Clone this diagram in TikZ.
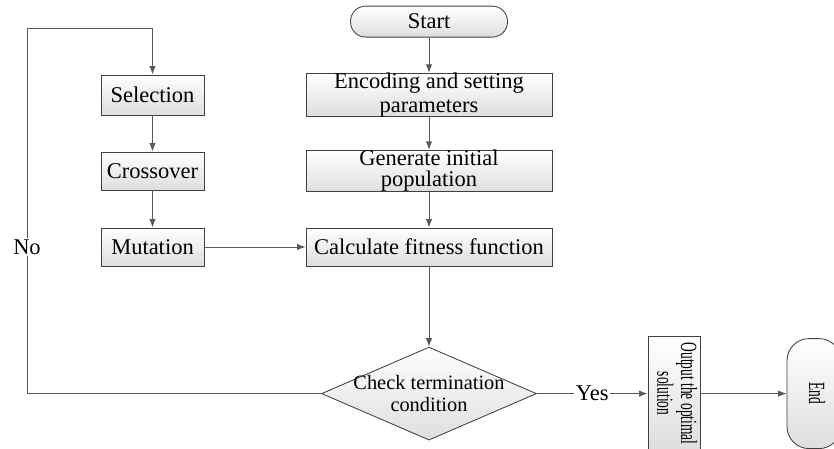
\documentclass[tikz,border=0pt]{standalone}
\usepackage{graphicx}
\usepackage{fontspec}
\setmainfont{Liberation Serif}
\usetikzlibrary{
    shapes.geometric, 
    arrows.meta, 
    positioning, 
    calc
}
\definecolor{bgWhite}{RGB}{255, 255, 255}
\definecolor{textBlack}{RGB}{0, 0, 0}
\definecolor{lineGray}{RGB}{89, 89, 89}
\definecolor{borderGray}{RGB}{64, 64, 64}
\definecolor{shadeGray}{RGB}{222, 222, 222}
\def\picW{20.85}
\def\picH{11.2}
\newcommand{\vertText}[1]{\rotatebox{-90}{\scalebox{0.58}[1]{\begin{tabular}{@{}c@{}}#1\end{tabular}}}}
\tikzset{
    basic/.style={
        rectangle, 
        draw=borderGray, 
        line width=0.6pt, 
        top color=bgWhite, 
        bottom color=shadeGray, 
        text=textBlack, 
        inner sep=0pt, 
        align=center, 
        font=\fontsize{16}{16.5}\selectfont
    },
    stepBox/.style={
        basic, 
        minimum width=6.15cm, 
        minimum height=1.0cm
    },
    opBox/.style={
        basic, 
        minimum width=2.575cm, 
        minimum height=1.0cm
    },
    terminal/.style={
        basic, 
        rounded corners=0.38cm, 
        minimum width=3.925cm, 
        minimum height=0.775cm
    },
    decision/.style={
        diamond, 
        draw=borderGray, 
        line width=0.6pt, 
        top color=bgWhite, 
        bottom color=shadeGray, 
        minimum width=5.375cm, 
        minimum height=2.325cm, 
        inner sep=0pt
    },
    edgeLabel/.style={
        fill=bgWhite, 
        text=textBlack, 
        inner sep=1pt, 
        font=\fontsize{16}{16}\selectfont
    },
    connector/.style={
        draw=lineGray, 
        line width=0.7pt, 
        -{Latex[length=6pt, width=4.5pt]}
    }
}

\begin{document}
\begin{tikzpicture}
    \useasboundingbox (0,0) rectangle (\picW, \picH);
    \fill[bgWhite] (0,0) rectangle (\picW, \picH);
    
    % Main flow
    \node[terminal] (start) at (10.725, 10.66) {Start};
    \node[stepBox, minimum height=1.075cm] (encode) at (10.725, 8.825) {Encoding and setting\\parameters};
    \node[stepBox, font=\fontsize{16}{15}\selectfont] (init) at (10.725, 6.925) {Generate initial\\population};
    \node[stepBox, minimum height=0.95cm] (fitness) at (10.725, 5.025) {Calculate fitness function};
    
    % Genetic operators
    \node[opBox] (selection) at (3.8125, 8.825) {Selection};
    \node[opBox, minimum height=0.95cm] (crossover) at (3.8125, 6.925) {Crossover};
    \node[opBox, minimum height=0.95cm] (mutation) at (3.8125, 5.025) {Mutation};
    
    % Decision
    \node[decision, label={[font=\fontsize{14.5}{15.5}\selectfont, align=center]center:Check termination\\condition}] (check) at (10.725, 1.36) {};
    
    % Output and end
    \node[basic, minimum width=1.3cm, minimum height=2.85cm, font=\fontsize{16.5}{17}\selectfont] (output) at (16.85, 1.36) {\vertText{Output the optimal\\solution}};
    \node[basic, rounded corners=0.55cm, minimum width=1.35cm, minimum height=2.75cm, font=\fontsize{16.5}{17}\selectfont] (finish) at (20.35, 1.36) {\vertText{End}};
    
    % Edges
    \draw[connector] (start) -- (encode);
    \draw[connector] (encode) -- (init);
    \draw[connector] (init) -- (fitness);
    \draw[connector] (fitness) -- (check);
    
    \draw[connector] (selection) -- (crossover);
    \draw[connector] (crossover) -- (mutation);
    \draw[connector] (mutation) -- (fitness);
    
    \draw[connector] (check) -- node[edgeLabel] {Yes} (output);
    \draw[connector] (output) -- (finish);
    
    % Loop back
    \coordinate (loopLow) at (0.675, 1.36);
    \coordinate (loopHigh) at (0.675, 10.5);
    \draw[connector] (check.west) -- (loopLow) -- node[edgeLabel, pos=0.4] {No} (loopHigh) -| (selection.north);
\end{tikzpicture}
\end{document}
